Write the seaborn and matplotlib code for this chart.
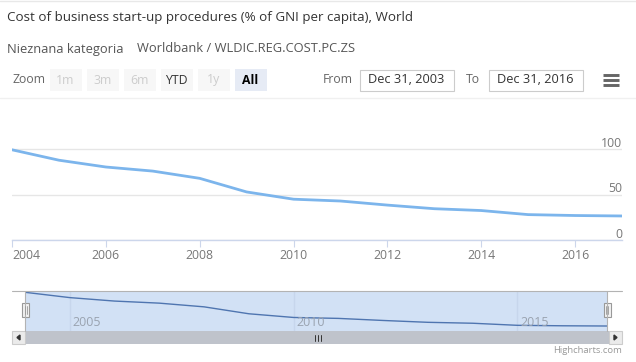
import matplotlib
matplotlib.use('Agg')
import matplotlib.pyplot as plt
from matplotlib.patches import Rectangle, Polygon
import seaborn as sns

W, H = 636, 362

# one point per year; each is dated Dec 31 of the year before the label
years = [2004, 2005, 2006, 2007, 2008, 2009, 2010,
         2011, 2012, 2013, 2014, 2015, 2016, 2017]
cost_pct = [99.5, 88.0, 80.5, 76.0, 68.0, 53.0, 45.0,
            43.0, 38.5, 34.5, 32.5, 28.0, 27.0, 26.5]

main_xticks = [2004, 2006, 2008, 2010, 2012, 2014, 2016]
main_yticks = [0, 50, 100]
nav_xticks = [2005, 2010, 2015]

title = 'Cost of business start-up procedures (% of GNI per capita), World'
category = 'Nieznana kategoria'
source = 'Worldbank / WLDIC.REG.COST.PC.ZS'
zoom_buttons = ['1m', '3m', '6m', 'YTD', '1y', 'All']
zoom_enabled = [False, False, False, True, False, True]
date_from = 'Dec 31, 2003'
date_to = 'Dec 31, 2016'

LINE = '#7cb5ec'
MASK = '#d2e1f5'

sns.set_theme(style='white')
plt.rcParams['font.family'] = ['Open Sans', 'DejaVu Sans']


def px_axes(fig, left, top, width, height, **kw):
    return fig.add_axes([left / W, 1 - (top + height) / H, width / W, height / H], **kw)


fig = plt.figure(figsize=(W / 100, H / 100), dpi=100)

# --- chrome drawn in pixel space ---
ui = fig.add_axes([0, 0, 1, 1], zorder=0)
ui.set_xlim(0, W)
ui.set_ylim(H, 0)
ui.axis('off')

ui.plot([0, W], [1, 1], color='#e8e8e8', lw=1)
ui.plot([0, W], [97.5, 97.5], color='#f0f0f0', lw=1)

ui.text(7, 18, title, fontsize=9.6, color='#333333', va='center')
ui.text(7, 49, category, fontsize=9.3, color='#555555', va='center')
ui.text(137, 49, source, fontsize=9.3, color='#555555', va='center')

ui.text(12.5, 79.5, 'Zoom', fontsize=8.8, color='#666666', va='center')
bx = 49.5
for label, enabled in zip(zoom_buttons, zoom_enabled):
    selected = label == 'All'
    face = '#e6ebf5' if selected else '#f7f7f7'
    ui.add_patch(Rectangle((bx, 69), 32, 22, facecolor=face, edgecolor='none'))
    ui.text(bx + 16, 80, label, fontsize=8.8, ha='center', va='center',
            color='#000000' if selected else ('#333333' if enabled else '#cccccc'),
            fontweight='bold' if selected else 'normal')
    bx += 37

ui.text(322.5, 79.5, 'From', fontsize=8.8, color='#666666', va='center')
ui.add_patch(Rectangle((359.5, 69.5), 94, 21, facecolor='white', edgecolor='#cccccc', lw=0.8))
ui.text(406.5, 79.5, date_from, fontsize=9.2, color='#333333', ha='center', va='center')
ui.text(465.5, 79.5, 'To', fontsize=8.8, color='#666666', va='center')
ui.add_patch(Rectangle((488.5, 69.5), 94, 21, facecolor='white', edgecolor='#cccccc', lw=0.8))
ui.text(535.5, 79.5, date_to, fontsize=9.2, color='#333333', ha='center', va='center')
for yy in (75, 80, 85):
    ui.plot([603, 619], [yy, yy], color='#666666', lw=2.1, solid_capstyle='butt')

# scrollbar
ui.add_patch(Rectangle((12, 331), 610, 13, facecolor='#f2f2f2', edgecolor='none'))
ui.add_patch(Rectangle((25, 331), 584, 13, facecolor='#bfc3cb', edgecolor='none'))
ui.add_patch(Rectangle((12, 331), 13, 13, facecolor='#ebebeb', edgecolor='#cccccc', lw=0.8))
ui.add_patch(Rectangle((609, 331), 13, 13, facecolor='#ebebeb', edgecolor='#cccccc', lw=0.8))
ui.add_patch(Polygon([[20, 335], [20, 340], [17, 337.5]], color='#333333'))
ui.add_patch(Polygon([[614, 335], [614, 340], [617, 337.5]], color='#333333'))
for xx in (315, 318, 321):
    ui.plot([xx, xx], [334.5, 340.5], color='#333333', lw=0.7)

ui.text(622, 350.5, 'Highcharts.com', fontsize=6.8, color='#999999', ha='right', va='center')

# --- main chart ---
ax = px_axes(fig, 12, 100, 610, 140, zorder=2)
ax.set_facecolor('none')
sns.lineplot(x=years, y=cost_pct, ax=ax, color=LINE, lw=2)
ax.set_xlim(2004, 2017)
ax.set_ylim(0, 154.4)
for s in ('top', 'left', 'right'):
    ax.spines[s].set_visible(False)
ax.spines['bottom'].set_color('#ccd6eb')
ax.spines['bottom'].set_linewidth(1)
ax.set_yticks(main_yticks)
ax.set_yticklabels([])
ax.tick_params(axis='y', length=0)
ax.yaxis.grid(True, color='#e6e6e6', lw=1)
ax.set_axisbelow(True)
ax.set_xticks(main_xticks)
ax.set_xticklabels([str(t) for t in main_xticks], fontsize=8.8, color='#777777')
ax.tick_params(axis='x', length=5, width=0.8, color='#ccd6eb', direction='out', pad=1.5, bottom=True)
ax.get_xticklabels()[0].set_ha('left')
for v in main_yticks:
    ax.annotate(str(v), xy=(1, v), xycoords=ax.get_yaxis_transform(),
                xytext=(0, 6), textcoords='offset pixels',
                ha='right', va='center', fontsize=8.8, color='#777777')
ax.set_xlabel('')
ax.set_ylabel('')

# --- navigator ---
nav = px_axes(fig, 25, 291, 582, 40, zorder=2)
nav.set_facecolor(MASK)
for xt in nav_xticks:
    nav.axvline(xt, color='#c7d6ec', lw=1, zorder=0)
    nav.annotate(str(xt), xy=(xt, 0.22), xycoords=nav.get_xaxis_transform(),
                 xytext=(3, 0), textcoords='offset pixels',
                 ha='left', va='center', fontsize=9, color='#9aa3b0')
sns.lineplot(x=years, y=cost_pct, ax=nav, color='#4f75b0', lw=1)
nav.set_xlim(2004, 2017)
nav.set_ylim(15.7, 102.3)
nav.set_xticks([])
nav.set_yticks([])
nav.set_xlabel('')
nav.set_ylabel('')
for s in nav.spines.values():
    s.set_visible(False)

# navigator outline and handles (on top)
top = fig.add_axes([0, 0, 1, 1], zorder=3)
top.set_xlim(0, W)
top.set_ylim(H, 0)
top.axis('off')
top.plot([12, 622], [291, 291], color='#b3b3b3', lw=0.8)
top.plot([25, 25], [291, 331], color='#b3b3b3', lw=0.8)
top.plot([607, 607], [291, 331], color='#b3b3b3', lw=0.8)
for hx in (25.5, 607):
    top.add_patch(Rectangle((hx - 3.5, 303), 7, 14, facecolor='#f2f2f2', edgecolor='#999999', lw=0.8))
    for dx in (-1, 1):
        top.plot([hx + dx, hx + dx], [306, 314], color='#999999', lw=0.6)

fig.savefig('out.png', dpi=100)
